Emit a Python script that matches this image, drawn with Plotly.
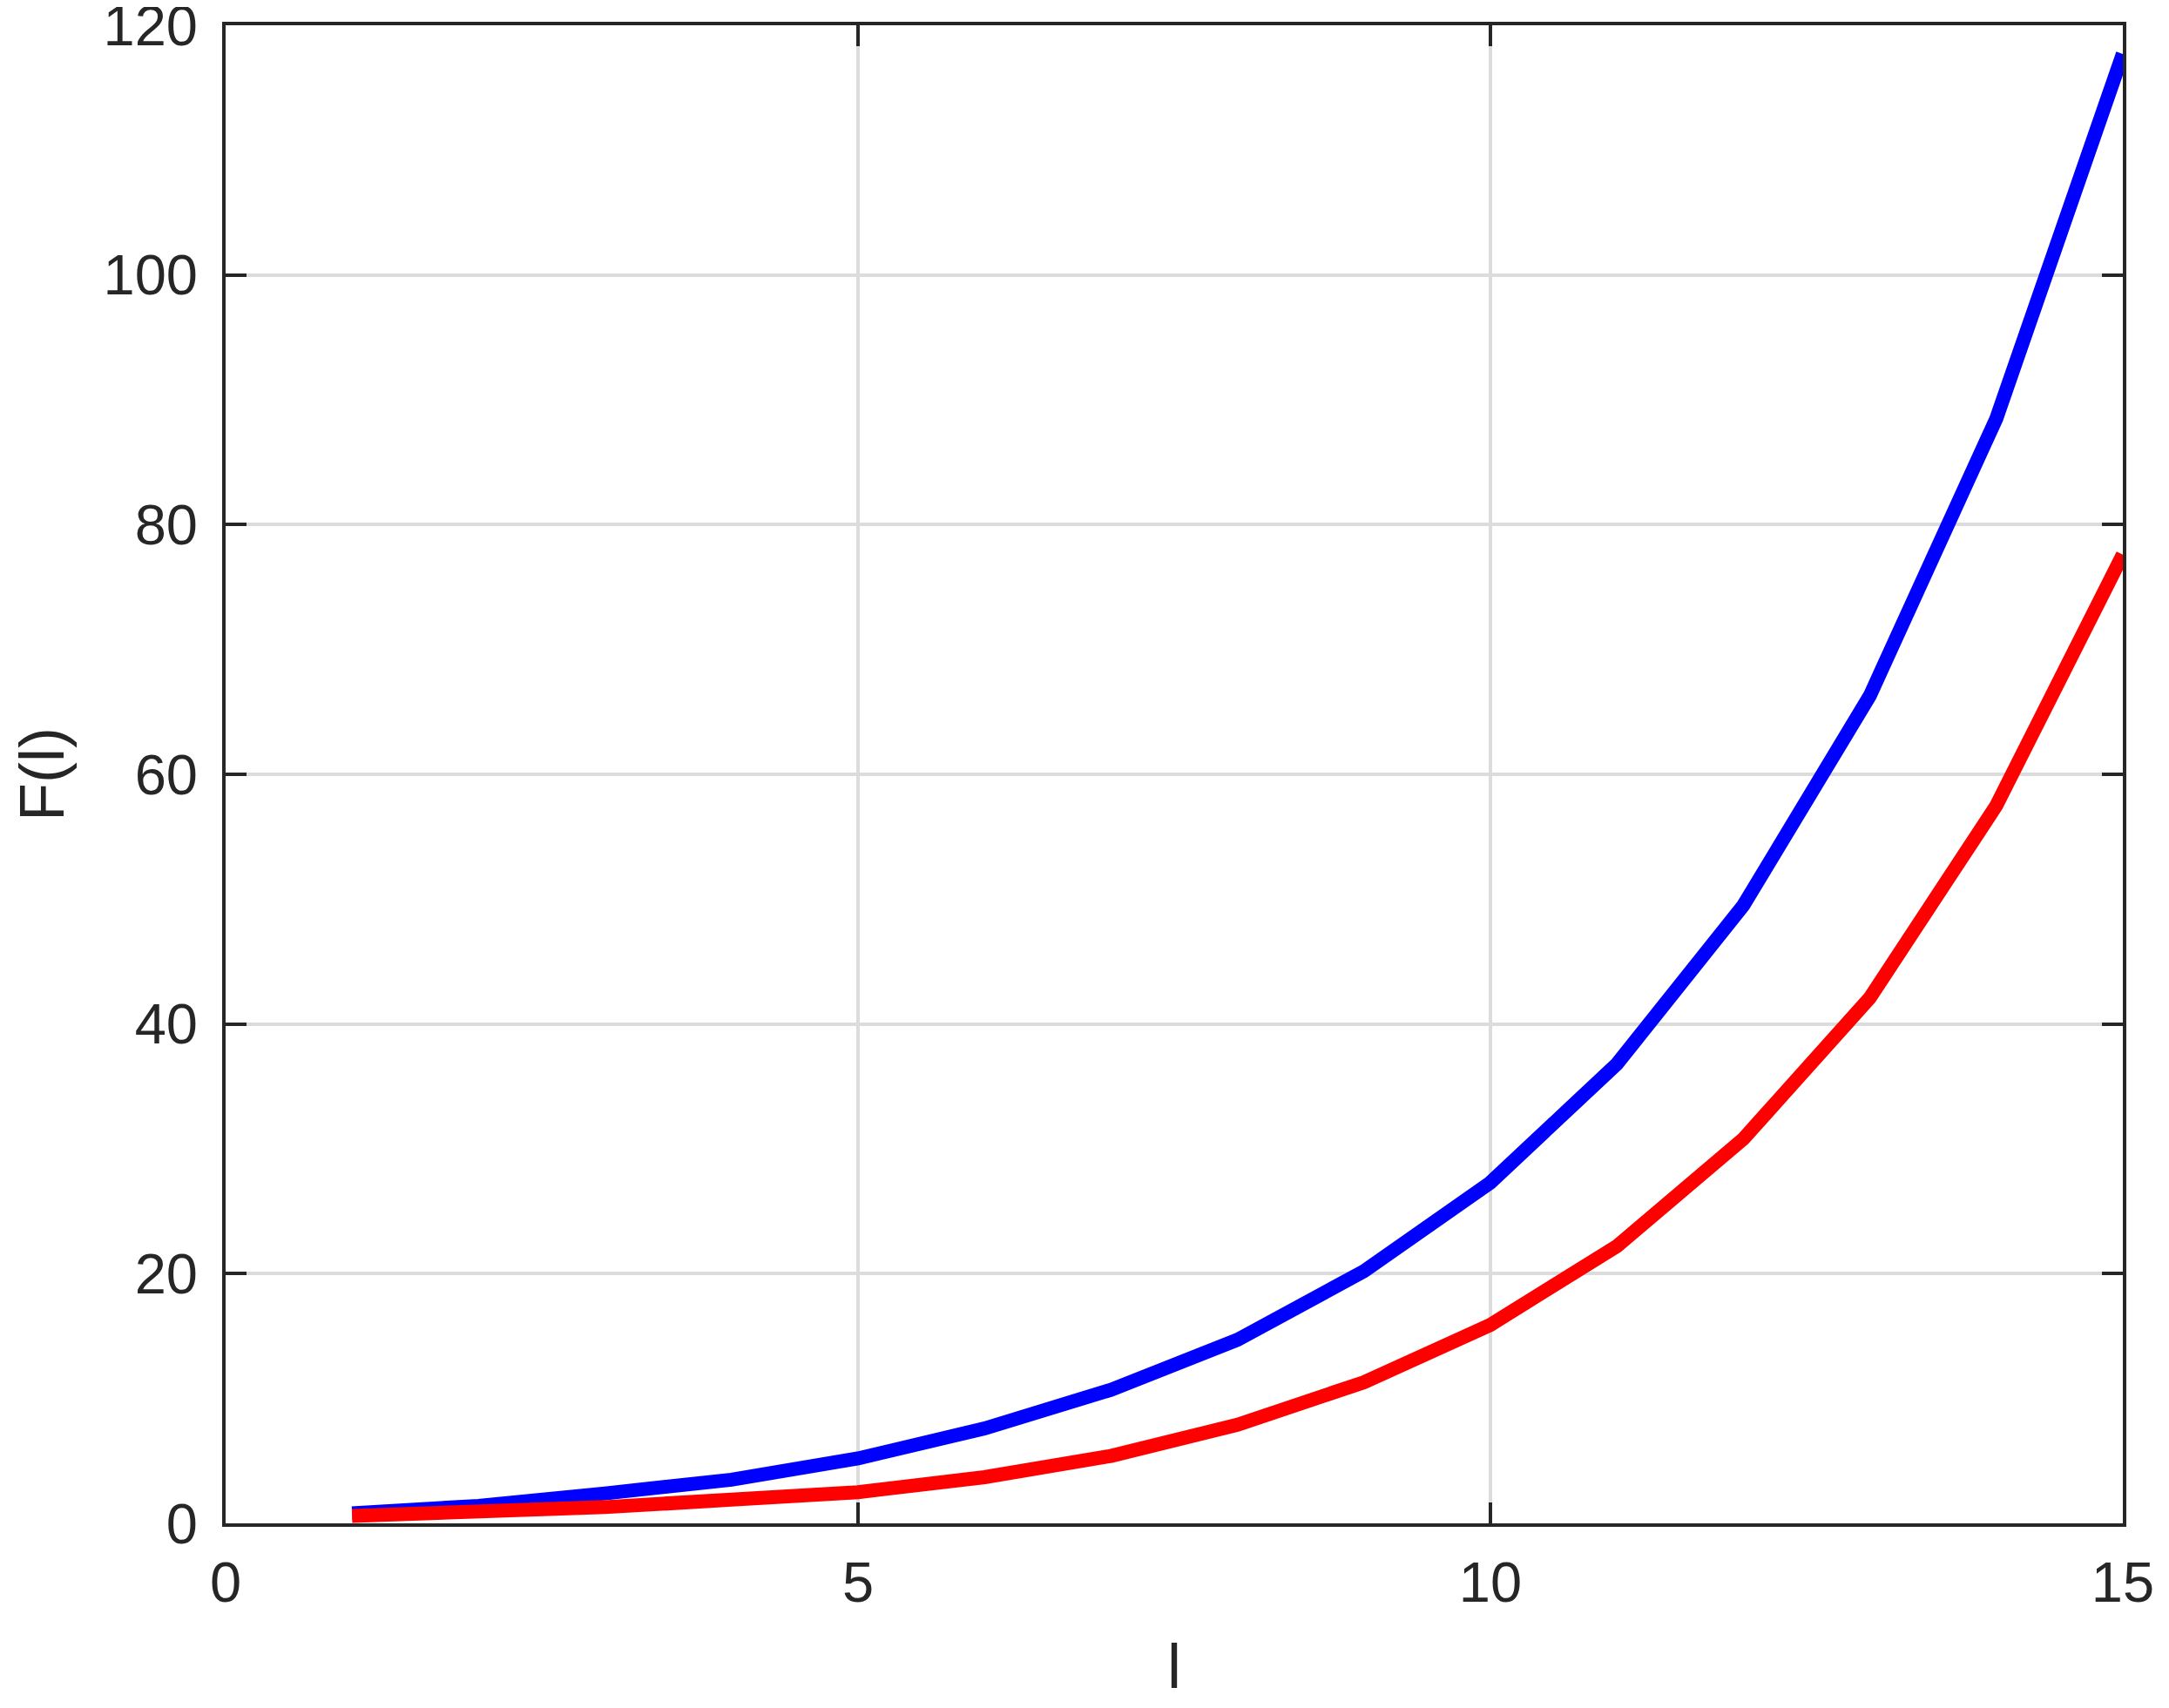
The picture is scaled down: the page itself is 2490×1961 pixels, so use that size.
import plotly.graph_objects as go

# ---- DATA ----
l_values = list(range(1, 16))
f_blue = [0.8, 1.4, 2.4, 3.5, 5.2, 7.6, 10.7, 14.7, 20.2, 27.3, 36.8, 49.5, 66.3, 88.5, 117.7]
f_red = [0.6, 0.9, 1.3, 1.9, 2.5, 3.7, 5.4, 7.9, 11.3, 15.9, 22.2, 30.8, 42.1, 57.5, 77.6]

x_ticks = [0, 5, 10, 15]
y_ticks = [0, 20, 40, 60, 80, 100, 120]

AXIS_COLOR = '#262626'
GRID_COLOR = '#dcdcdc'
FONT = 'Liberation Sans, Arial, Helvetica, sans-serif'


fig = go.Figure()

fig.add_trace(go.Scatter(x=l_values, y=f_blue, mode='lines',
                         line=dict(color='#0000ff', width=16), showlegend=False))
fig.add_trace(go.Scatter(x=l_values, y=f_red, mode='lines',
                         line=dict(color='#ff0000', width=16), showlegend=False))

axis_common = dict(
    showline=True, linecolor=AXIS_COLOR, linewidth=4, mirror='ticks',
    ticks='inside', ticklen=24, tickwidth=4, tickcolor=AXIS_COLOR,
    showgrid=True, gridcolor=GRID_COLOR, gridwidth=4,
    zeroline=False, ticklabeloverflow='allow',
    tickfont=dict(family=FONT, size=65, color=AXIS_COLOR),
)

fig.update_xaxes(
    range=[0, 15], tickvals=x_ticks,
    ticklabelstandoff=8,
    title=dict(text='l', font=dict(family=FONT, size=72, color=AXIS_COLOR), standoff=37),
    **axis_common
)
fig.update_yaxes(
    range=[0, 120], tickvals=y_ticks,
    ticklabelstandoff=15,
    title=dict(text='F(l)', font=dict(family=FONT, size=72, color=AXIS_COLOR), standoff=41),
    **axis_common
)

fig.update_layout(
    width=2490, height=1961,
    margin=dict(l=251, r=61, t=21, b=220, autoexpand=False),
    plot_bgcolor='white', paper_bgcolor='white',
)

fig.write_html("out.html")
